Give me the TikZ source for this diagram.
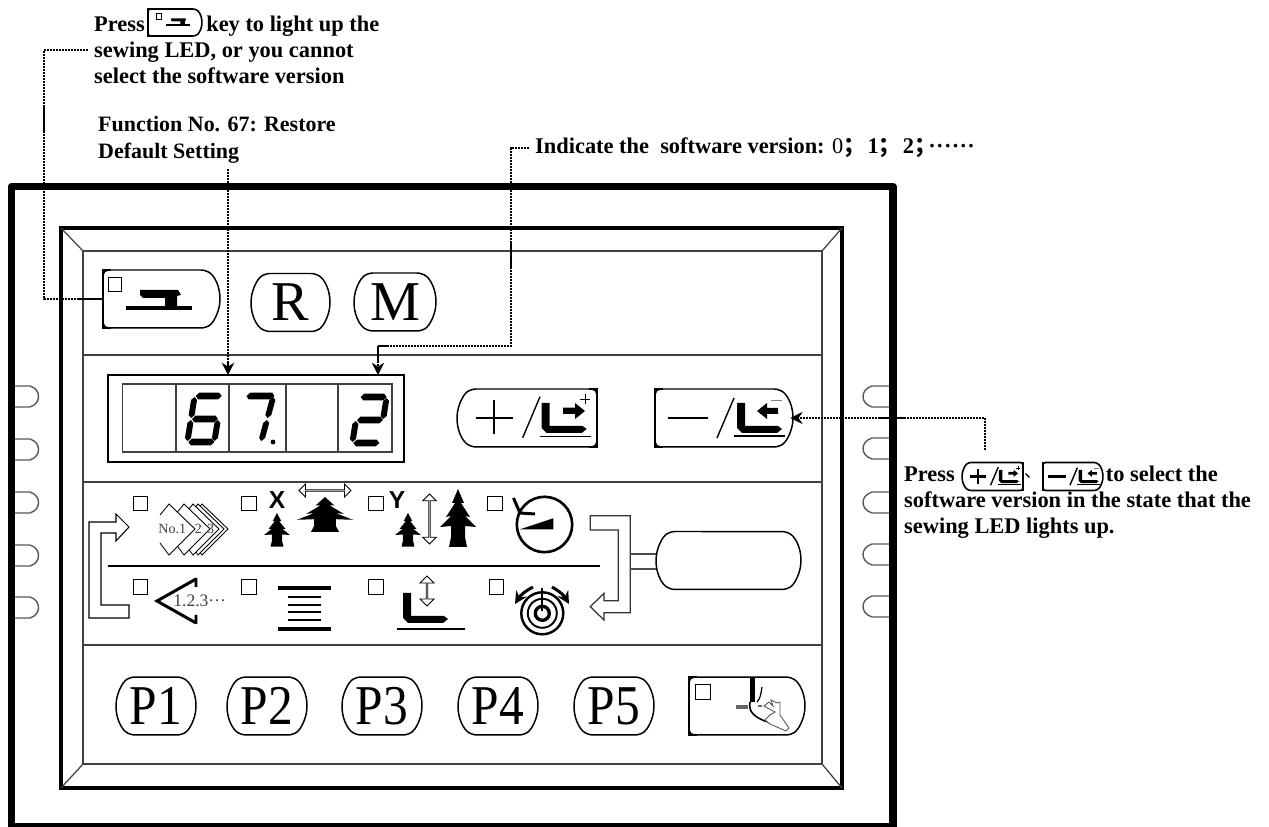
\documentclass[tikz,border=0pt]{standalone}
\usepackage{fontspec}
\setmainfont{Liberation Serif}
\setsansfont{Liberation Sans}
\newfontfamily\cjk{Noto Sans CJK SC}
\usetikzlibrary{arrows.meta,shapes.misc,shapes.arrows}

\newcommand{\dotrun}{\textperiodcentered\kern.2pt\textperiodcentered\kern.2pt\textperiodcentered\kern.2pt\textperiodcentered\kern.2pt\textperiodcentered\kern.2pt\textperiodcentered}
\newcommand{\hseg}[3]{\fill (#1,#2) -- ++(3,-3.3) -- ++(#3-6,0) -- ++(3,3.3) -- ++(-3,3.3) -- ++(6-#3,0) -- cycle;}
\newcommand{\vseg}[3]{\fill (#1,#2) -- ++(3,3) -- ++(0,#3-6) -- ++(-3,3) -- ++(-3,-3) -- ++(0,6-#3) -- cycle;}
\newcommand{\footfill}[2]{\fill [shift = {(#1,#2)}] (0,0) -- (8,0) -- (8,23) -- (41,23) -- (45,26) -- (40,30) -- (5,30) -- (0,25) -- cycle;}
\newcommand{\flatend}[3]{\draw [line width = .85pt, line join = miter] (#1.#2 |- #1.north) ++(#3,0) -- ++(-#3,0) -- (#1.#2 |- #1.south) -- ++(#3,0);}

\tikzset{
	note/.style = {font = \fontsize{12.75}{15}\selectfont\bfseries, align = left, anchor = north west},
	key/.style = {draw, rounded rectangle, rounded rectangle arc length = 100, rounded corners = 3pt, line width = .85pt, minimum height = 1.16cm, inner sep = 0pt, outer sep = 0pt, font = \fontsize{32}{32}\selectfont},
	smallkey/.style = {key, rounded corners = 1.5pt, line width = .9pt, minimum height = .56cm},
	led/.style = {draw, rectangle, line width = .8pt, minimum size = .29cm, inner sep = 0pt},
	hollow/.style = {draw, double arrow, line width = .5pt, inner sep = 0pt, double arrow head extend = .07cm},
	leader/.style = {line width = .7pt, dash pattern = on 1.2pt off .5pt},
	pointer/.style = {leader, -{Stealth[length = 7pt, width = 7pt]}},
	panel/.style = {line width = .7pt, draw = black!75},
	tab/.style = {line width = .8pt, draw = black!65},
	treeicon/.pic = {\fill (0,0) -- (6,14) -- (3,14) -- (12,28) -- (7,27) -- (18,38) -- (7,37) -- (7,48) -- (9,58) -- (-9,58) -- (-7,48) -- (-7,37) -- (-18,38) -- (-7,27) -- (-12,28) -- (-3,14) -- (-6,14) -- cycle;},
	sewicon/.pic = {\fill (0,-1.6) rectangle (66,1.6);
		\fill (14,-18) -- (52,-18) -- (55,-13) -- (51,-12) -- (51,0) -- (39,0) -- (39,-10) -- (17,-10) -- (14,-13) -- cycle;},
	plusglyph/.pic = {\draw [line width = 1.5pt] (-51,0) -- (-14,0) (-33,-18) -- (-33,16);
		\draw [line width = .8pt] (-4.3,19.7) -- (13,-21.3);
		\footfill{14.7}{-15}
		\draw [line width = .8pt] (13,18.7) -- (64,18.7);
		\fill (36,-10.3) rectangle (48,-4) (48,-15) -- (58,-7) -- (48,1) -- cycle;
		\draw [line width = .4pt] (53,-19) -- (63,-19) (58,-24) -- (58,-14);},
	minusglyph/.pic = {\draw [line width = 1.5pt] (-56,0) -- (-16,0);
		\draw [line width = .8pt] (-7,20) -- (10,-20);
		\footfill{13}{-15}
		\draw [line width = .8pt] (10,18) -- (61,18);
		\fill (43,-10) rectangle (54,-4) (43,-15) -- (33,-7) -- (43,1) -- cycle;
		\draw [line width = .4pt, gray] (47,-18) -- (58,-18);},
}

\begin{document}
\begin{tikzpicture}[x = .02cm, y = -.02cm]
	\useasboundingbox (0,0) rectangle (1269,827);

	% housing and panel
	\draw [line width = 4.2pt, line join = round] (11.5,186.5) rectangle (893,826.5);
	\draw [line width = 2pt] (61,228) rectangle (842,788);
	\draw [panel] (83,251) rectangle (822,764);
	\draw [panel] (61,228) -- (83,251) (842,228) -- (822,251) (61,788) -- (83,764) (842,788) -- (822,764);
	\draw [panel] (83,355) -- (822,355) (83,482) -- (822,482) (83,645) -- (822,645);
	\foreach \taby in {386,439,492,545,597}
		\draw [tab] (15,\taby) -- (30,\taby) .. controls (36,\taby+2) and (38.5,\taby+6) .. (38.5,\taby+10.5) .. controls (38.5,\taby+15) and (36,\taby+19) .. (30,\taby+21) -- (15,\taby+21);
	\foreach \taby in {386,438,492,544,596}
		\draw [tab] (889,\taby) -- (872,\taby) .. controls (866,\taby+2) and (863,\taby+6) .. (863,\taby+10.5) .. controls (863,\taby+15) and (866,\taby+19) .. (872,\taby+21) -- (889,\taby+21);

	% top row keys
	\node [key, rounded rectangle west arc = none, minimum width = 2.34cm] (keysew) at (161.5,299) {};
	\flatend{keysew}{west}{8}
	\node [led, minimum size = .27cm] (ledsew) at (115,284.5) {};
	\pic at (126,308) {sewicon};
	\node [key, minimum width = 1.58cm] (keyr) at (290.5,302.5) {R};
	\node [key, minimum width = 1.64cm] (keym) at (395,302) {M};

	% display
	\node [draw, line width = 1.1pt, minimum width = 5.92cm, minimum height = 1.74cm] (display) at (256,418.5) {};
	\node [draw = black!75, line width = .6pt, minimum width = 5.4cm, minimum height = 1.36cm] (cells) at (257,418) {};
	\foreach \cellx in {176,229,286,338}
		\draw [line width = .6pt, black!75] (\cellx,384) -- (\cellx,452);
	\begin{scope}[shift = {(194,394)}, xslant = .16]
		\hseg{2}{2}{26} \hseg{2}{25}{26} \hseg{2}{48}{26} \vseg{1}{3}{21} \vseg{1}{26}{21} \vseg{28}{26}{21}
	\end{scope}
	\begin{scope}[shift = {(246,394)}, xslant = .27]
		\hseg{1}{2}{28} \vseg{28}{3}{21} \vseg{28}{26}{21}
	\end{scope}
	\fill (273,442) circle [radius = 2.4];
	\begin{scope}[shift = {(359,395)}, xslant = .16]
		\hseg{2}{2}{26} \hseg{2}{25}{26} \hseg{2}{48}{26} \vseg{28}{3}{21} \vseg{1}{26}{21}
	\end{scope}

	% plus and minus keys
	\node [key, rounded rectangle east arc = none, minimum width = 2.8cm] (keyplus) at (527,418) {};
	\flatend{keyplus}{east}{-8}
	\pic at (keyplus) {plusglyph};
	\node [key, rounded rectangle west arc = none, minimum width = 2.76cm] (keyminus) at (724,418) {};
	\flatend{keyminus}{west}{8}
	\pic at (keyminus) {minusglyph};

	% indicator rows
	\foreach \ledx/\ledy/\ledname in {140.5/503.5/a, 249/503.5/b, 376/503.5/c, 495/503.5/d, 140.5/587/e, 249/587/f, 376/587/g, 496.5/587/h}
		\node [led] (led\ledname) at (\ledx,\ledy) {};
	\draw [line width = .6pt] (108,566) -- (600,566);
	\draw [line width = .6pt, fill = white] (89,522) -- (116,522) -- (116,514) -- (129,527) -- (116,541) -- (116,533) -- (101,533) -- (101,605) -- (129,605) -- (129,618) -- (89,618) -- cycle;
	\draw [line width = .7pt, black!80, fill = white] (590.3,515.7) -- (630.3,515.7) -- (630.3,612.7) -- (604,612.7) -- (604,620) -- (590.3,606.7) -- (604,593.3) -- (604,600.7) -- (618.3,600.7) -- (618.3,530) -- (590.3,530) -- cycle;
	\node [key, minimum width = 2.9cm] (keyblank) at (728.5,560.5) {};
	\draw [line width = .6pt, black!70] (630.3,554) -- (keyblank.west |- 0,554) (630.3,569) -- (keyblank.west |- 0,569);

	\foreach \chevx in {33,29,24,15,0}
		\draw [line width = .5pt, fill = white, shift = {(\chevx,0)}] (160,515) -- (169,504) -- (195,529) -- (169,555) -- (160,543);
	\node [anchor = west, inner sep = 0pt, font = \fontsize{8}{8}\selectfont, black!75] (chevtext) at (158,529) {No.1\hspace{5pt}2\hspace{3pt}3};

	\node [font = \fontsize{14}{14}\selectfont\sffamily\bfseries, inner sep = 0pt] (labelx) at (277,500) {X};
	\node [font = \fontsize{14}{14}\selectfont\sffamily\bfseries, inner sep = 0pt] (labely) at (397,500.5) {Y};
	\pic [xscale = .72, yscale = .58] at (277,513) {treeicon};
	\pic [xscale = 1.55, yscale = .6] at (325,497) {treeicon};
	\pic [xscale = .72, yscale = .58] at (408,513) {treeicon};
	\pic at (458,489) {treeicon};
	\node [hollow, minimum height = 1.04cm, minimum width = .26cm] (movex) at (325,490.5) {};
	\node [hollow, rotate = 90, minimum height = 1cm, minimum width = .27cm] (movey) at (429.5,519) {};

	\draw [line width = 1.5pt] (544.5,524.5) circle [radius = 27.7];
	\draw [line width = 1.7pt] (513.5,498) -- (520,513) -- (535,514);
	\fill (520,529.3) -- (553.3,518.3) -- (553.3,529.3) -- cycle;

	\draw [line width = 1.7pt] (196,579) -- (157,601) -- (196,623) (196,578) -- (196,587) (196,615) -- (196,624);
	\node [anchor = west, inner sep = 0pt, font = \fontsize{10}{10}\selectfont, black!75] (seqtext) at (173,601) {1.2.3\textperiodcentered\textperiodcentered\textperiodcentered};

	\draw [line width = 2.2pt] (278,588) -- (331,588) (278,629) -- (331,629);
	\foreach \stacky in {597,605,612,620}
		\draw [line width = .6pt] (288,\stacky) -- (321,\stacky);

	\footfill{403}{593}
	\draw [line width = .8pt] (397,629) -- (465,629);
	\node [hollow, rotate = 90, minimum height = .6cm, minimum width = .28cm] (movefoot) at (427,591) {};

	\draw [line width = 1.4pt] (542.3,613.3) circle [radius = 21];
	\draw [line width = 1.1pt] (542.3,613.3) circle [radius = 14.5];
	\draw [line width = 1.9pt] (542.3,613.3) circle [radius = 7];
	\draw [line width = 1pt] (542.3,588) -- (542.3,611);
	\draw [line width = 1.7pt, -{Stealth[length = 7pt, width = 7pt]}] (533,587) to [bend right = 15] (515,604);
	\draw [line width = 1.7pt, -{Stealth[length = 7pt, width = 7pt]}] (552,587) to [bend left = 15] (569,604);

	% bottom row keys
	\foreach \keyx/\keyname in {156/1, 267/2, 382/3, 498/4, 614/5}
		\node [key, minimum width = 1.6cm] (keyp\keyname) at (\keyx,706) {\scalebox{.88}[1]{P\keyname}};
	\node [key, rounded rectangle west arc = none, minimum width = 2.32cm] (keyhand) at (747,706) {};
	\flatend{keyhand}{west}{8}
	\node [led] (ledhand) at (703,692) {};
	\draw [line width = 2.8pt] (752.5,677) -- (752.5,702);
	\draw [line width = .7pt] (757,702) .. controls (761,698) and (761,692) .. (762,687);
	\draw [line width = .9pt] (750,702) .. controls (748,712) and (755,718) .. (768,722);
	\draw [line width = .6pt, black!60] (737,706) rectangle (747,708) (758,706) -- (762,706);
	\draw [line width = .5pt, black!65, fill = white] (764,706) -- (769,702) -- (773,706) -- (771,700) -- (777,703) -- (780,702) -- (780,715) -- (789,728) -- (786,731) -- (770,724) -- (765,720) -- (770,715) -- (775,712) -- cycle;

	% notes
	\node [note] (noteled) at (88,9.5) {Press\hspace{35pt}key to light up the\\sewing LED, or you cannot\\select the software version};
	\node [key, smallkey, rounded rectangle west arc = none, minimum width = 1.08cm, minimum height = .54cm] (smallsew) at (175,22.5) {};
	\flatend{smallsew}{west}{5}
	\node [led, line width = .5pt, minimum size = .11cm] (smallled) at (159,16.5) {};
	\pic [scale = .37] at (166,25) {sewicon};
	\node [note, font = \fontsize{12.5}{15}\selectfont\bfseries] (noterestore) at (92,110.5) {Function No. 67: Restore\\Default Setting};
	\node [note, anchor = west] (noteversion) at (529,148) {Indicate the \ software version: {\mdseries 0}{\cjk ；}\hspace{1pt}1{\cjk ；}\hspace{1pt}2{\cjk ；}\hspace{-4.6pt}\dotrun};
	\node [note] (notekeys) at (898,459.5) {Press\hspace{86pt}to select the\\software version in the state that the\\sewing LED lights up.};
	\node [key, smallkey, rounded rectangle east arc = none, minimum width = 1.22cm] (smallplus) at (992.5,476.5) {};
	\flatend{smallplus}{east}{-5}
	\pic [scale = .44] at (smallplus) {plusglyph};
	\node [font = \fontsize{10}{10}\selectfont\cjk, inner sep = 0pt] (smallsep) at (1033,476) {、};
	\node [key, smallkey, rounded rectangle west arc = none, minimum width = 1.2cm] (smallminus) at (1073,476.5) {};
	\flatend{smallminus}{west}{5}
	\pic [scale = .44] at (smallminus) {minusglyph};

	% leaders
	\coordinate (ledbend) at (44,299);
	\coordinate (restoretip) at (228,375);
	\coordinate (versionbend) at (511,346);
	\coordinate (versiontip) at (378,375);
	\coordinate (keysstart) at (985,450);
	\draw [leader] (noteled.west) -| (ledbend) -- (keysew.west);
	\draw [pointer] (noterestore.south -| restoretip) -- (restoretip);
	\draw [pointer] (noteversion.west) -| (versionbend) -| (versiontip);
	\draw [pointer, shorten > = -1.5pt] (keysstart) |- (keyminus.east);
\end{tikzpicture}
\end{document}
